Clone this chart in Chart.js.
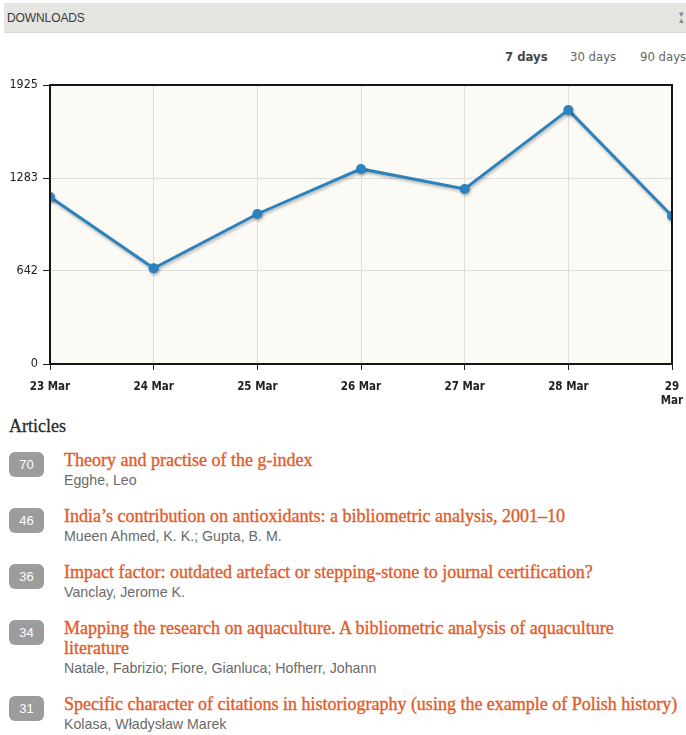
<!DOCTYPE html>
<html>
<head>
<meta charset="utf-8">
<script src="https://cdn.jsdelivr.net/npm/chart.js@4.4.1/dist/chart.umd.min.js"></script>
<style>
  html, body { margin:0; padding:0; background:#fff; width:686px; height:735px; overflow:hidden; }
  body { position:relative; font-family: Arial, "Liberation Sans", sans-serif; }
  #hdr { position:absolute; left:4px; top:3px; width:682px; height:29px; background:#e5e5e1; border-bottom:1px solid #d8d8d4; }
  #hdr span { position:absolute; left:3px; top:8px; font-size:12px; color:#3a3a3a; letter-spacing:-0.1px; }
  #hdr i { position:absolute; right:2px; top:8px; font-style:normal; font-size:9px; color:#888; line-height:6px; }
  .tab { position:absolute; top:49px; white-space:nowrap; font-family:"DejaVu Sans Condensed","DejaVu Sans",sans-serif; font-size:13px; color:#666; }
  .tab.on { font-weight:bold; color:#444; }
  #wrap { position:absolute; left:0; top:72px; width:686px; height:340px; }
  #art { position:absolute; left:9px; top:416px; font-family:"Liberation Serif",serif; font-size:18px; color:#2a2a2a; -webkit-text-stroke:0.3px #2a2a2a; }
  .badge { position:absolute; left:9px; width:35px; height:25px; border-radius:6px; background:#9c9c9c; color:#fff; font-size:13px; line-height:25px; text-align:center; }
  .title { position:absolute; left:64px; width:620px; font-family:"Liberation Serif",serif; font-size:18px; line-height:20px; color:#e35a28; -webkit-text-stroke:0.35px #e35a28; }
  .auth { position:absolute; left:64px; font-size:14.2px; line-height:18px; color:#6a6a6a; white-space:nowrap; }
</style>
</head>
<body>
<div id="hdr"><span>DOWNLOADS</span><i>▾<br>▴</i></div>
<div class="tab on" style="left:505px">7 days</div>
<div class="tab" style="left:570px">30 days</div>
<div class="tab" style="left:640px">90 days</div>
<div id="wrap"><canvas id="c"></canvas></div>
<div id="art">Articles</div>
<div id="list"></div>
<script>
const categories = ["23 Mar", "24 Mar", "25 Mar", "26 Mar", "27 Mar", "28 Mar", "29 Mar"];
const downloads = [1152, 660, 1035, 1346, 1208, 1753, 1021];
const yTickValues = [0, 642, 1283, 1925];
const yMax = 1925;

const articleCounts = [70, 46, 36, 34, 31];
const articleTitles = [
  "Theory and practise of the g-index",
  "India’s contribution on antioxidants: a bibliometric analysis, 2001–10",
  "Impact factor: outdated artefact or stepping-stone to journal certification?",
  "Mapping the research on aquaculture. A bibliometric analysis of aquaculture literature",
  "Specific character of citations in historiography (using the example of Polish history)"
];
const articleAuthors = [
  "Egghe, Leo",
  "Mueen Ahmed, K. K.; Gupta, B. M.",
  "Vanclay, Jerome K.",
  "Natale, Fabrizio; Fiore, Gianluca; Hofherr, Johann",
  "Kolasa, Władysław Marek"
];

// article list
(function(){
  const list = document.getElementById('list');
  const tops = [450, 506, 562, 618, 694];
  const lines = [1, 1, 1, 2, 1];
  articleCounts.forEach((n, i) => {
    const t = tops[i];
    const b = document.createElement('div'); b.className = 'badge'; b.style.top = (t + 2) + 'px'; b.textContent = n; list.appendChild(b);
    const ti = document.createElement('div'); ti.className = 'title'; ti.style.top = t + 'px';
    ti.style.width = lines[i] > 1 ? '580px' : '622px';
    ti.style.whiteSpace = lines[i] > 1 ? 'normal' : 'nowrap';
    ti.textContent = articleTitles[i]; list.appendChild(ti);
    const a = document.createElement('div'); a.className = 'auth'; a.style.top = (t + 21 + (lines[i]-1)*20) + 'px'; a.textContent = articleAuthors[i]; list.appendChild(a);
  });
})();

const frame = {
  id: 'frame',
  beforeDraw(chart) {
    const {ctx, chartArea: a} = chart;
    ctx.save();
    ctx.fillStyle = '#fbfaf5';
    ctx.fillRect(a.left, a.top, a.right - a.left, a.bottom - a.top);
    ctx.restore();
  },
  beforeDatasetsDraw(chart) {
    const ctx = chart.ctx;
    ctx.save();
    ctx.shadowColor = 'rgba(0,0,0,0.28)';
    ctx.shadowBlur = 3;
    ctx.shadowOffsetX = 1;
    ctx.shadowOffsetY = 2;
  },
  afterDatasetsDraw(chart) {
    const {ctx, chartArea: a} = chart;
    ctx.restore();
    ctx.save();
    ctx.strokeStyle = '#151515';
    ctx.lineWidth = 2;
    ctx.strokeRect(a.left, a.top, a.right - a.left, a.bottom - a.top);
    ctx.restore();
  }
};

const narrow = '"DejaVu Sans Condensed","DejaVu Sans",sans-serif';

new Chart(document.getElementById('c'), {
  type: 'line',
  data: {
    labels: categories,
    datasets: [{
      data: downloads,
      borderColor: '#2b82bd',
      backgroundColor: '#2b82bd',
      borderWidth: 3,
      pointRadius: 5,
      pointBorderWidth: 0,
      pointBackgroundColor: '#2b82bd',
      tension: 0,
      clip: 0,
      fill: false
    }]
  },
  options: {
    responsive: true,
    maintainAspectRatio: false,
    animation: false,
    devicePixelRatio: 1,
    layout: { padding: { top: 13, right: 14, left: 0, bottom: 0 } },
    plugins: { legend: { display: false }, tooltip: { enabled: false } },
    scales: {
      x: {
        type: 'category',
        offset: false,
        afterFit(s) { s.height = 48; s.paddingLeft = 0; s.paddingRight = 0; },
        border: { display: false },
        grid: { color: '#dedede', tickColor: '#222', tickLength: 6, lineWidth: 1 },
        ticks: {
          autoSkip: false, maxRotation: 0, minRotation: 0, padding: 10,
          color: '#222',
          font: { family: narrow, size: 11.5, weight: 'bold', lineHeight: 1.2 },
          callback(v, i) { return i === categories.length - 1 ? categories[i].split(' ') : categories[i]; }
        }
      },
      y: {
        type: 'linear',
        min: 0,
        max: yMax,
        afterFit(s) { s.width = 50; },
        afterBuildTicks(s) { s.ticks = yTickValues.map(v => ({ value: v })); },
        border: { display: false },
        grid: { color: '#dedede', tickColor: '#222', tickLength: 7, lineWidth: 1 },
        ticks: { color: '#222', font: { family: narrow, size: 12.5 }, padding: 5, callback(v) { return String(v); } }
      }
    }
  },
  plugins: [frame]
});
</script>
</body>
</html>
